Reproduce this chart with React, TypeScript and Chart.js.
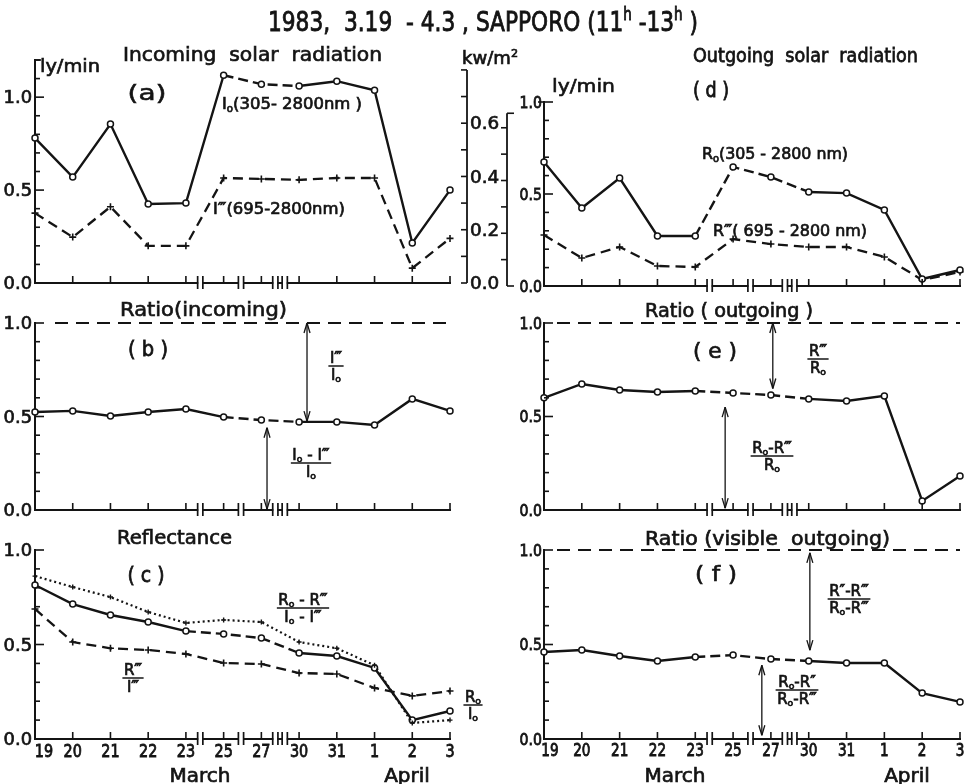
import React, { useEffect, useRef } from 'react';
import { Chart, registerables } from 'chart.js';

Chart.register(...registerables);

const W = 969;
const H = 784;
const INK = '#141414';
const FONT = '"DejaVu Sans", "Liberation Sans", sans-serif';
const KW_PER_LY = 0.6977; // 1 ly/min = 697.7 W/m2

// ---------- data ----------
const days = ['19', '20', '21', '22', '23', '25', '27', '30', '31', '1', '2', '3'];
const incomingTotal = [0.78, 0.57, 0.855, 0.425, 0.43, 1.118, 1.07, 1.06, 1.086, 1.037, 0.215, 0.5];
const incomingNearIR = [0.376, 0.247, 0.41, 0.2, 0.2, 0.565, 0.56, 0.555, 0.565, 0.565, 0.08, 0.24];
const outgoingTotal = [0.674, 0.424, 0.587, 0.272, 0.272, 0.647, 0.592, 0.511, 0.505, 0.413, 0.038, 0.087];
const outgoingNearIR = [0.277, 0.152, 0.212, 0.109, 0.103, 0.255, 0.228, 0.212, 0.212, 0.158, 0.033, 0.076];
const ratioIncoming = [0.524, 0.53, 0.503, 0.524, 0.54, 0.497, 0.481, 0.471, 0.471, 0.455, 0.594, 0.53];
const ratioOutgoing = [0.6, 0.674, 0.642, 0.631, 0.636, 0.626, 0.615, 0.594, 0.583, 0.61, 0.048, 0.182];
const reflectanceTotal = [0.815, 0.714, 0.656, 0.619, 0.571, 0.556, 0.534, 0.455, 0.439, 0.376, 0.1, 0.148];
const reflectanceVisible = [0.862, 0.804, 0.751, 0.672, 0.614, 0.63, 0.619, 0.513, 0.48, 0.39, 0.085, 0.1];
const reflectanceNearIR = [0.688, 0.513, 0.48, 0.471, 0.45, 0.402, 0.397, 0.349, 0.344, 0.27, 0.228, 0.254];
const ratioVisibleOutgoing = [0.46, 0.471, 0.439, 0.413, 0.434, 0.444, 0.423, 0.413, 0.402, 0.402, 0.243, 0.196];

const lyTickValues = [0, 0.5, 1.0];
const lyTickLabels = ['0.0', '0.5', '1.0'];
const kwTickValues = [0, 0.2, 0.4, 0.6];
const kwTickLabels = ['0.0', '0.2', '0.4', '0.6'];
const months = ['March', 'April'];
const axisBreaks = [4.38, 5.46, 6.37, 6.62]; // category positions of the "||" breaks

// ---------- text helpers ----------
type Seg = { t: string; sub?: boolean; sup?: boolean };
type TOpt = { size: number; align?: 'left' | 'center' | 'right'; width?: number; hscale?: number; bold?: number };

function toSegs(s: string | Seg[]): Seg[] {
  return typeof s === 'string' ? [{ t: s }] : s;
}
function segSize(s: Seg, size: number) {
  return s.sub || s.sup ? size * 0.62 : size;
}
function measureSegs(ctx: CanvasRenderingContext2D, sg: Seg[], size: number) {
  let w = 0;
  for (const s of sg) {
    ctx.font = `${segSize(s, size)}px ${FONT}`;
    w += ctx.measureText(s.t).width;
  }
  return w;
}
function drawText(ctx: CanvasRenderingContext2D, s: string | Seg[], x: number, baseline: number, o: TOpt) {
  const sg = toSegs(s);
  const natural = measureSegs(ctx, sg, o.size);
  const k = o.width ? o.width / natural : o.hscale ?? 1;
  const total = natural * k;
  const x0 = o.align === 'center' ? x - total / 2 : o.align === 'right' ? x - total : x;
  const bold = o.bold ?? 0.7;
  ctx.save();
  ctx.translate(x0, baseline);
  ctx.scale(k, 1);
  ctx.fillStyle = INK;
  ctx.strokeStyle = INK;
  ctx.setLineDash([]);
  ctx.lineWidth = bold / k;
  ctx.textBaseline = 'alphabetic';
  ctx.textAlign = 'left';
  let cx = 0;
  for (const s2 of sg) {
    const fs = segSize(s2, o.size);
    ctx.font = `${fs}px ${FONT}`;
    const dy = s2.sub ? o.size * 0.16 : s2.sup ? -o.size * 0.42 : 0;
    ctx.fillText(s2.t, cx, dy);
    if (bold > 0) ctx.strokeText(s2.t, cx, dy);
    cx += ctx.measureText(s2.t).width;
  }
  ctx.restore();
  return total;
}
function seg(ctx: CanvasRenderingContext2D, x1: number, y1: number, x2: number, y2: number, lw = 1.6) {
  ctx.beginPath();
  ctx.lineWidth = lw;
  ctx.strokeStyle = INK;
  ctx.moveTo(x1, y1);
  ctx.lineTo(x2, y2);
  ctx.stroke();
}
function frac(ctx: CanvasRenderingContext2D, num: string | Seg[], den: string | Seg[], cx: number, barY: number, size = 15) {
  const wn = measureSegs(ctx, toSegs(num), size);
  const wd = measureSegs(ctx, toSegs(den), size);
  const bw = Math.max(wn, wd) + 3;
  drawText(ctx, num, cx, barY - 3, { size, align: 'center' });
  drawText(ctx, den, cx, barY + 3 + size * 0.73, { size, align: 'center' });
  ctx.setLineDash([]);
  seg(ctx, cx - bw / 2, barY, cx + bw / 2, barY, 1.5);
}
function arrow(ctx: CanvasRenderingContext2D, x: number, yTop: number, yBot: number) {
  ctx.setLineDash([]);
  seg(ctx, x, yTop, x, yBot, 1.3);
  seg(ctx, x - 3, yBot - 10, x, yBot, 1.3);
  seg(ctx, x + 3, yBot - 10, x, yBot, 1.3);
  seg(ctx, x - 3, yTop + 10, x, yTop, 1.3);
  seg(ctx, x + 3, yTop + 10, x, yTop, 1.3);
}

const I0: Seg[] = [{ t: 'I' }, { t: 'o', sub: true }];
const R0: Seg[] = [{ t: 'R' }, { t: 'o', sub: true }];

// ---------- datasets ----------
function solid(data: number[], dashFrom: number) {
  return {
    data,
    borderColor: INK,
    borderWidth: 2.4,
    pointStyle: 'circle',
    pointRadius: 3,
    pointBackgroundColor: '#fff',
    pointBorderColor: INK,
    pointBorderWidth: 1.5,
    tension: 0,
    fill: false,
    clip: false,
    segment: {
      borderDash: (c: any) => (c.p0DataIndex >= dashFrom && c.p0DataIndex <= 6 ? [10, 5] : undefined),
    },
  };
}
function dashedPlus(data: number[]) {
  return {
    data,
    borderColor: INK,
    borderWidth: 2.3,
    borderDash: [10, 6],
    pointStyle: 'cross',
    pointRadius: 3.5,
    pointBorderColor: INK,
    pointBorderWidth: 1.6,
    tension: 0,
    fill: false,
    clip: false,
  };
}
function dotted(data: number[]) {
  return {
    data,
    borderColor: INK,
    borderWidth: 2.2,
    borderDash: [2, 3],
    pointStyle: 'cross',
    pointRadius: 2.5,
    pointBorderColor: INK,
    pointBorderWidth: 1.4,
    tension: 0,
    fill: false,
    clip: false,
  };
}

// ---------- panels ----------
type Panel = {
  id: string;
  col: 'left' | 'right';
  box: { l: number; t: number; r: number; b: number };
  yMax: number;
  datasets: any[];
  xLabels: boolean;
  refFrom?: number;
  decor: (chart: any, ctx: CanvasRenderingContext2D) => void;
};

const monthCenters = { left: [200, 407], right: [675, 907] };

const PANELS: Panel[] = [
  {
    id: 'a',
    col: 'left',
    box: { l: 35, t: 60, r: 450, b: 283 },
    yMax: 1.2,
    datasets: [solid(incomingTotal, 5), dashedPlus(incomingNearIR)],
    xLabels: false,
    decor: (chart, ctx) => {
      const { left, right, top } = chart.chartArea;
      const ys = chart.scales.y;
      // title
      drawText(ctx, [{ t: '1983,  3.19  - 4.3 , SAPPORO (11' }, { t: 'h', sup: true }, { t: ' -13' }, { t: 'h', sup: true }, { t: ' )' }], 483, 31, { size: 27, align: 'center', width: 430 });
      drawText(ctx, 'Incoming  solar  radiation', 123, 61, { size: 19, width: 259 });
      drawText(ctx, [{ t: 'kw/m' }, { t: '2', sup: true }], 462, 64, { size: 17, width: 56 });
      drawText(ctx, 'ly/min', 40, 72, { size: 17, width: 60 });
      seg(ctx, left, top, left + 6, top);
      drawText(ctx, '(a)', 147, 100, { size: 22, align: 'center', width: 39 });
      drawText(ctx, [...I0, { t: '(305- 2800nm )' }], 222, 109, { size: 16, width: 140 });
      drawText(ctx, [{ t: 'I\u2034' }, { t: '(695-2800nm)' }], 213, 214, { size: 16, width: 132 });
      // kw/m2 axis
      const xk = right + 17;
      const pk = (kw: number) => ys.getPixelForValue(kw / KW_PER_LY);
      seg(ctx, xk, pk(0), xk, pk(0.8), 1.8);
      for (let k = 0; k <= 8; k++) seg(ctx, xk - 6, pk(k / 10), xk, pk(k / 10));
      kwTickValues.forEach((v, j) => drawText(ctx, kwTickLabels[j], xk + 3, pk(v) + 17 * 0.365, { size: 17, hscale: 1.08 }));
    },
  },
  {
    id: 'b',
    col: 'left',
    box: { l: 35, t: 323, r: 450, b: 510 },
    yMax: 1.0,
    datasets: [solid(ratioIncoming, 5)],
    xLabels: false,
    refFrom: 20,
    decor: (chart, ctx) => {
      const xs = chart.scales.x;
      const ys = chart.scales.y;
      drawText(ctx, 'Ratio(incoming)', 120, 316, { size: 19, width: 167 });
      drawText(ctx, '( b )', 148, 356, { size: 22, align: 'center', width: 40 });
      arrow(ctx, xs.getPixelForValue(7.21), ys.getPixelForValue(1.0), ys.getPixelForValue(0.475));
      frac(ctx, 'I\u2034', I0, 336, 366);
      arrow(ctx, xs.getPixelForValue(6.15), ys.getPixelForValue(0.44), ys.getPixelForValue(0.005));
      frac(ctx, [...I0, { t: ' - I\u2034' }], I0, 311, 463);
    },
  },
  {
    id: 'c',
    col: 'left',
    box: { l: 35, t: 550, r: 450, b: 739 },
    yMax: 1.0,
    datasets: [dotted(reflectanceVisible), solid(reflectanceTotal, 4), dashedPlus(reflectanceNearIR)],
    xLabels: true,
    decor: (chart, ctx) => {
      drawText(ctx, 'Reflectance', 117, 544, { size: 19, width: 115 });
      drawText(ctx, '( c )', 146, 582, { size: 22, align: 'center', width: 37 });
      frac(ctx, [...R0, { t: ' - R\u2034' }], [...I0, { t: ' - I\u2034' }], 303, 608);
      frac(ctx, 'R\u2034', 'I\u2034', 133, 678);
      frac(ctx, R0, I0, 473, 705);
    },
  },
  {
    id: 'd',
    col: 'right',
    box: { l: 544, t: 102, r: 960, b: 286 },
    yMax: 1.0,
    datasets: [solid(outgoingTotal, 4), dashedPlus(outgoingNearIR)],
    xLabels: false,
    decor: (chart, ctx) => {
      const { left, top } = chart.chartArea;
      const ys = chart.scales.y;
      drawText(ctx, 'Outgoing  solar  radiation', 693, 62, { size: 19, width: 225 });
      drawText(ctx, 'ly/min', 552, 92, { size: 17, width: 63 });
      seg(ctx, left - 6, top, left, top);
      drawText(ctx, '( d )', 711, 97, { size: 22, align: 'center', width: 36 });
      drawText(ctx, [...R0, { t: '(305 - 2800 nm)' }], 702, 159, { size: 16, width: 146 });
      drawText(ctx, [{ t: 'R\u2034' }, { t: '( 695 - 2800 nm)' }], 713, 236, { size: 16, width: 154 });
      // second kw/m2 axis
      const xk = left - 37;
      const pk = (kw: number) => ys.getPixelForValue(kw / KW_PER_LY);
      seg(ctx, xk, pk(0), xk, pk(0.655), 1.8);
      for (let k = 1; k <= 6; k++) seg(ctx, xk - 6, pk(k / 10), xk, pk(k / 10));
      seg(ctx, xk, pk(0.655), xk + 7, pk(0.655));
      seg(ctx, xk, pk(0), xk + 7, pk(0));
    },
  },
  {
    id: 'e',
    col: 'right',
    box: { l: 544, t: 323, r: 960, b: 510 },
    yMax: 1.0,
    datasets: [solid(ratioOutgoing, 4)],
    xLabels: false,
    refFrom: 13,
    decor: (chart, ctx) => {
      const xs = chart.scales.x;
      const ys = chart.scales.y;
      drawText(ctx, 'Ratio ( outgoing )', 645, 317, { size: 19, width: 168 });
      drawText(ctx, '( e )', 715, 358, { size: 22, align: 'center', width: 44 });
      arrow(ctx, xs.getPixelForValue(6.05), ys.getPixelForValue(1.0), ys.getPixelForValue(0.65));
      frac(ctx, 'R\u2034', R0, 818, 359);
      arrow(ctx, xs.getPixelForValue(4.79), ys.getPixelForValue(0.55), ys.getPixelForValue(0.01));
      frac(ctx, [...R0, { t: '-R\u2034' }], R0, 772, 456);
    },
  },
  {
    id: 'f',
    col: 'right',
    box: { l: 544, t: 550, r: 960, b: 739 },
    yMax: 1.0,
    datasets: [solid(ratioVisibleOutgoing, 4)],
    xLabels: true,
    refFrom: 13,
    decor: (chart, ctx) => {
      const xs = chart.scales.x;
      const ys = chart.scales.y;
      drawText(ctx, 'Ratio (visible  outgoing)', 645, 545, { size: 19, width: 245 });
      drawText(ctx, '( f )', 716, 581, { size: 22, align: 'center', width: 42 });
      arrow(ctx, xs.getPixelForValue(7.03), ys.getPixelForValue(0.985), ys.getPixelForValue(0.47));
      frac(ctx, [{ t: 'R\u2033-R\u2034' }], [...R0, { t: '-R\u2034' }], 849, 599);
      arrow(ctx, xs.getPixelForValue(5.76), ys.getPixelForValue(0.39), ys.getPixelForValue(0.02));
      frac(ctx, [...R0, { t: '-R\u2033' }], [...R0, { t: '-R\u2034' }], 797, 690);
    },
  },
];

function drawAxes(chart: any, p: Panel) {
  const ctx: CanvasRenderingContext2D = chart.ctx;
  const { left, right, bottom } = chart.chartArea;
  const xs = chart.scales.x;
  const ys = chart.scales.y;
  ctx.setLineDash([]);
  // y ticks every 0.1, pointing inwards
  const n = Math.round(p.yMax * 10);
  for (let k = 1; k <= n; k++) {
    const py = ys.getPixelForValue(k / 10);
    seg(ctx, left, py, left + (k % 5 === 0 ? 9 : 5), py);
  }
  // x ticks, pointing inwards
  days.forEach((_, i) => {
    const px = xs.getPixelForValue(i);
    seg(ctx, px, bottom, px, bottom - 7);
  });
  // axis breaks
  axisBreaks.forEach((b) => {
    const px = xs.getPixelForValue(b);
    ctx.fillStyle = '#fff';
    ctx.fillRect(px - 2, bottom - 2, 4, 4);
    seg(ctx, px - 2.6, bottom - 7, px - 2.6, bottom + 6, 1.7);
    seg(ctx, px + 2.6, bottom - 7, px + 2.6, bottom + 6, 1.7);
  });
  // y labels
  const left_ = p.col === 'left';
  const fs = left_ ? 17 : 16;
  lyTickValues.forEach((v, j) => {
    if (v > p.yMax) return;
    const py = ys.getPixelForValue(v);
    drawText(ctx, lyTickLabels[j], left - (left_ ? 3 : 2), py + fs * 0.365, { size: fs, align: 'right', hscale: left_ ? 1.05 : 0.88 });
  });
  // reference line at 1.0
  if (p.refFrom !== undefined) {
    const py = ys.getPixelForValue(1.0);
    ctx.save();
    ctx.setLineDash([13, 8]);
    seg(ctx, left + p.refFrom, py, right, py, 2);
    ctx.restore();
  }
  // x labels
  if (p.xLabels) {
    const xfs = left_ ? 18 : 17;
    days.forEach((d, i) => {
      const px = xs.getPixelForValue(i) + (i === 0 ? (left_ ? 9 : 6) : 0);
      drawText(ctx, d, px, 750 + xfs * 0.365, { size: xfs, align: 'center', hscale: 0.8 });
    });
    const mc = monthCenters[p.col];
    months.forEach((m, j) => drawText(ctx, m, mc[j], 782, { size: 20, align: 'center' }));
  }
}

function buildConfig(p: Panel): any {
  return {
    type: 'line',
    data: { labels: days, datasets: p.datasets },
    options: {
      animation: false,
      responsive: false,
      devicePixelRatio: 1,
      events: [],
      layout: { padding: { left: p.box.l, top: p.box.t, right: W - p.box.r, bottom: H - p.box.b } },
      plugins: { legend: { display: false }, tooltip: { enabled: false }, title: { display: false } },
      scales: {
        x: {
          type: 'category',
          offset: false,
          grid: { display: false },
          ticks: { display: false },
          border: { display: true, color: INK, width: 2 },
          afterFit: (s: any) => {
            s.height = 0;
          },
        },
        y: {
          type: 'linear',
          min: 0,
          max: p.yMax,
          grid: { display: false },
          ticks: { display: false },
          border: { display: true, color: INK, width: 2 },
          afterFit: (s: any) => {
            s.width = 0;
          },
        },
      },
    },
    plugins: [
      {
        id: 'decor_' + p.id,
        afterDraw(chart: any) {
          const ctx = chart.ctx;
          ctx.save();
          drawAxes(chart, p);
          p.decor(chart, ctx);
          ctx.restore();
        },
      },
    ],
  };
}

export default function App() {
  const refs = useRef<(HTMLCanvasElement | null)[]>([]);
  useEffect(() => {
    const charts = PANELS.map((p, i) => new Chart(refs.current[i] as HTMLCanvasElement, buildConfig(p)));
    return () => charts.forEach((c) => c.destroy());
  }, []);
  return (
    <div style={{ position: 'absolute', left: 0, top: 0, width: W, height: H, background: '#fff', overflow: 'hidden' }}>
      {PANELS.map((p, i) => (
        <canvas
          key={p.id}
          ref={(el) => {
            refs.current[i] = el;
          }}
          width={W}
          height={H}
          style={{ position: 'absolute', left: 0, top: 0, width: W, height: H }}
        />
      ))}
    </div>
  );
}
